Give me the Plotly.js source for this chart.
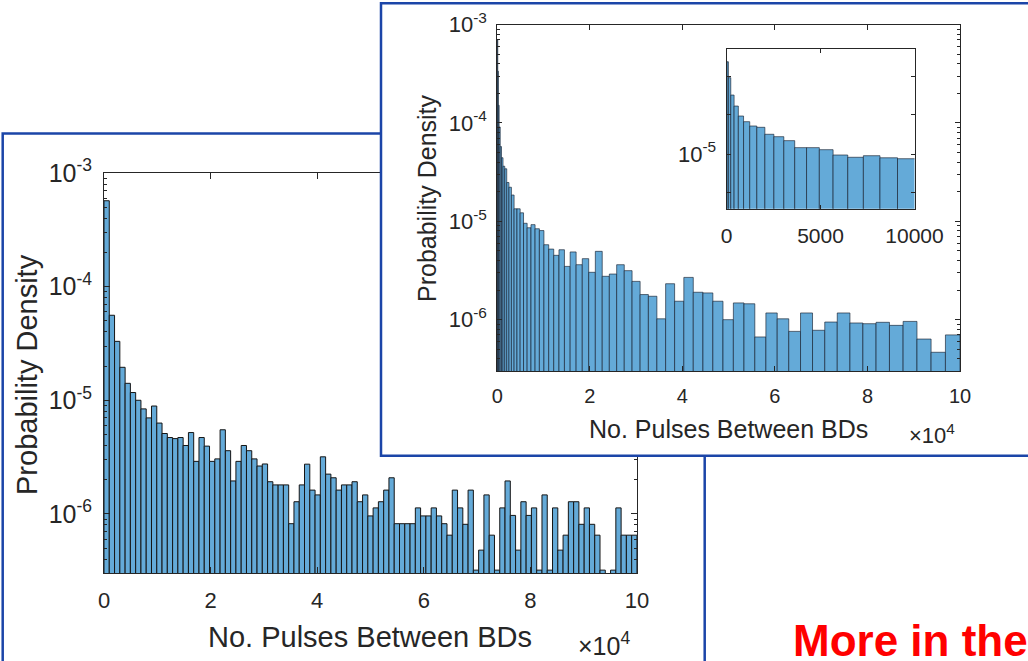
<!DOCTYPE html>
<html>
<head>
<meta charset="utf-8">
<script src="https://cdn.plot.ly/plotly-3.0.1.min.js"></script>
<style>
html,body{margin:0;padding:0;overflow:hidden;background:#ffffff;width:1028px;height:661px}
#leftPanel,#rightPanel{position:absolute;left:0;top:0;width:1028px;height:661px}
#rightPanel{z-index:2}
</style>
</head>
<body>
<div id="leftPanel"></div>
<div id="rightPanel"></div>
<script>
// ---------------- data ----------------
// Left figure: uniform bins
const leftBinWidth = 990;
const leftDensity = [
  5.7e-4, 5.6e-5, 3.3e-5, 1.95e-5, 1.41e-5, 1.17e-5, 1.0e-5, 8.4e-6, 7.0e-6, 8.9e-6,
  6.3e-6, 5.1e-6, 4.7e-6, 4.6e-6, 4.7e-6, 4.0e-6, 5.2e-6, 2.9e-6, 4.7e-6, 3.95e-6,
  2.9e-6, 3.05e-6, 5.5e-6, 3.6e-6, 1.95e-6, 2.9e-6, 4.0e-6, 3.6e-6, 3.05e-6, 2.64e-6,
  2.75e-6, 1.92e-6, 1.8e-6, 1.8e-6, 1.8e-6, 8.2e-7, 1.28e-6, 1.8e-6, 2.74e-6, 1.62e-6,
  1.47e-6, 3.18e-6, 2.24e-6, 2.08e-6, 1.62e-6, 1.8e-6, 1.8e-6, 1.92e-6, 1.28e-6, 1.47e-6,
  9.6e-7, 1.13e-6, 1.28e-6, 1.62e-6, 2.08e-6, 8.2e-7, 8.2e-7, 8.2e-7, 8.2e-7, 1.13e-6,
  9.6e-7, 9.6e-7, 1.13e-6, 9.6e-7, 8.2e-7, 6.5e-7, 1.62e-6, 1.13e-6, 8.1e-7, 1.62e-6,
  3.2e-7, 4.8e-7, 1.47e-6, 6.5e-7, 3.2e-7, 1.13e-6, 1.95e-6, 9.7e-7, 4.8e-7, 1.28e-6,
  9.7e-7, 1.13e-6, 3.2e-7, 1.47e-6, 3.2e-7, 1.13e-6, 4.8e-7, 6.5e-7, 1.28e-6, 1.28e-6,
  8.1e-7, 1.13e-6, 8.1e-7, 6.5e-7, 3.2e-7, 0, 3.2e-7, 1.13e-6, 6.5e-7, 6.5e-7,
  6.5e-7
];

// Right figure (and its inset): widening bins
const rightBinEdges = [
  0, 25, 101, 227, 403, 630, 907, 1235, 1613, 2041,
  2520, 3049, 3628, 4258, 4938, 5669, 6450, 7281, 8163, 9096,
  10078, 11111, 12195, 13328, 14513, 15747, 17032, 18367, 19753, 21189,
  22676, 24213, 25800, 27438, 29126, 30864, 32653, 34492, 36382, 38322,
  40313, 42353, 44445, 46586, 48778, 51021, 53313, 55656, 58050, 60494,
  62988, 65533, 68128, 70774, 73470, 76216, 79013, 81860, 84757, 87705,
  90703, 93752, 96851, 100000
];
const rightDensity = [
  7.0e-4, 7.0e-4, 3.36e-4, 1.51e-4, 9.1e-5, 5.75e-5, 4.43e-5, 3.63e-5, 3.42e-5, 2.48e-5,
  2.22e-5, 1.85e-5, 1.34e-5, 1.34e-5, 1.22e-5, 9.55e-6, 8.6e-6, 9.25e-6, 8.4e-6, 8.05e-6,
  5.78e-6, 5.22e-6, 4.51e-6, 5.14e-6, 3.48e-6, 4.88e-6, 3.62e-6, 4.17e-6, 3.03e-6, 4.95e-6,
  2.76e-6, 2.91e-6, 3.62e-6, 3.15e-6, 2.45e-6, 1.80e-6, 1.73e-6, 1.02e-6, 2.32e-6, 1.54e-6,
  2.69e-6, 1.90e-6, 1.87e-6, 1.54e-6, 1.0e-6, 1.48e-6, 1.45e-6, 6.67e-7, 1.17e-6, 1.02e-6,
  7.6e-7, 1.17e-6, 7.8e-7, 9.46e-7, 1.17e-6, 9.25e-7, 9.1e-7, 9.4e-7, 8.75e-7, 9.6e-7,
  6.35e-7, 4.66e-7, 7.0e-7
];

// tick labels
const mainXTickVals = [0, 20000, 40000, 60000, 80000, 100000];
const mainXTickText = ['0', '2', '4', '6', '8', '10'];
const mainYTickVals = [1e-6, 1e-5, 1e-4, 1e-3];
const mainYTickText = ['10<sup>-6</sup>', '10<sup>-5</sup>', '10<sup>-4</sup>', '10<sup>-3</sup>'];
const insetXTickVals = [0, 5000, 10000];
const insetXTickText = ['0', '5000', '10000'];
const insetYTickVals = [1e-5];
const insetYTickText = ['10<sup>-5</sup>'];
const insetYUnlabeledTicks = [3.52e-4, 6.03e-5, 1.66e-6];

const xLabel = 'No. Pulses Between BDs';
const yLabel = 'Probability Density';
const xExponent = '×10<sup>4</sup>';
const calloutText = '<b>More in the</b>';

// ---------------- styling / helpers ----------------
const W = 1028, H = 661;
const px = x => x / W;
const py = y => 1 - y / H;
const FONT = 'Liberation Sans, Arial, Helvetica, sans-serif';
const INK = '#262626';
const BAR_FILL = 'rgb(100,170,216)';
const PANEL_BLUE = '#1b45a8';

function logMinor(lo, hi) {
  const v = [];
  for (let e = lo; e <= hi; e++) for (let m = 2; m <= 9; m++) v.push(m * Math.pow(10, e));
  return v;
}
function axisBase(extra) {
  return Object.assign({
    showline: true, linecolor: INK, linewidth: 1, mirror: 'allticks',
    ticks: 'inside', tickcolor: INK, tickwidth: 1,
    showgrid: false, zeroline: false, fixedrange: true
  }, extra);
}
function ann(text, x, y, size, extra) {
  return Object.assign({
    text: text, xref: 'paper', yref: 'paper', x: px(x), y: py(y),
    xanchor: 'center', yanchor: 'middle', showarrow: false,
    font: {family: FONT, size: size, color: INK}
  }, extra || {});
}

// ---------------- left panel ----------------
const leftX = leftDensity.map((_, i) => (i + 0.5) * leftBinWidth);
const leftTrace = {
  type: 'bar', x: leftX, y: leftDensity, width: leftBinWidth,
  marker: {color: BAR_FILL, line: {color: '#151515', width: 1}},
  xaxis: 'x', yaxis: 'y', hoverinfo: 'skip'
};
const leftLayout = {
  width: W, height: H, margin: {l: 0, r: 0, t: 0, b: 0},
  paper_bgcolor: '#ffffff', plot_bgcolor: '#ffffff',
  showlegend: false, bargap: 0, font: {family: FONT, color: INK},
  xaxis: axisBase({
    domain: [px(104), px(637)], range: [0, 100000],
    tickmode: 'array', tickvals: mainXTickVals, ticktext: mainXTickText,
    ticklen: 6, tickfont: {family: FONT, size: 22, color: INK}, ticklabelstandoff: 8
  }),
  yaxis: axisBase({
    domain: [py(573), py(173)], type: 'log', range: [-6.52, -3],
    tickmode: 'array', tickvals: mainYTickVals, ticktext: mainYTickText,
    ticklen: 6, tickfont: {family: FONT, size: 25, color: INK}, ticklabelstandoff: 6,
    minor: {tickmode: 'array', tickvals: logMinor(-7, -4), ticks: 'inside', ticklen: 3, tickcolor: INK, tickwidth: 1}
  }),
  shapes: [{
    type: 'rect', xref: 'paper', yref: 'paper',
    x0: px(2.7), x1: px(704.7), y0: py(720), y1: py(133.5),
    line: {color: PANEL_BLUE, width: 2.5}, fillcolor: 'rgba(0,0,0,0)', layer: 'below'
  }],
  annotations: [
    ann(yLabel, 27, 375, 29, {textangle: -90}),
    ann(xLabel, 370, 637, 29),
    ann(xExponent, 604, 644, 25),
    ann(calloutText, 791, 640, 44, {xanchor: 'left', font: {family: FONT, size: 44, color: '#ff0000'}})
  ]
};

// ---------------- right panel + inset ----------------
const rightX = rightDensity.map((_, i) => (rightBinEdges[i] + rightBinEdges[i + 1]) / 2);
const rightW = rightDensity.map((_, i) => rightBinEdges[i + 1] - rightBinEdges[i]);
const rightBarStyle = {color: BAR_FILL, line: {color: 'rgba(20,30,45,0.8)', width: 0.8}};
const rightTrace = {
  type: 'bar', x: rightX, y: rightDensity, width: rightW,
  marker: rightBarStyle, xaxis: 'x2', yaxis: 'y2', hoverinfo: 'skip'
};
const insetTrace = {
  type: 'bar', x: rightX, y: rightDensity, width: rightW,
  marker: rightBarStyle, xaxis: 'x3', yaxis: 'y3', hoverinfo: 'skip'
};
const rightLayout = {
  width: W, height: H, margin: {l: 0, r: 0, t: 0, b: 0},
  paper_bgcolor: 'rgba(0,0,0,0)', plot_bgcolor: 'rgba(0,0,0,0)',
  showlegend: false, bargap: 0, font: {family: FONT, color: INK},
  xaxis2: axisBase({
    domain: [px(497.3), px(960)], range: [0, 100000], anchor: 'y2',
    tickmode: 'array', tickvals: mainXTickVals, ticktext: mainXTickText,
    ticklen: 5, tickfont: {family: FONT, size: 20, color: INK}, ticklabelstandoff: 7
  }),
  yaxis2: axisBase({
    domain: [py(371.3), py(24.6)], type: 'log', range: [-6.525, -3], anchor: 'x2',
    tickmode: 'array', tickvals: mainYTickVals, ticktext: mainYTickText,
    ticklen: 5, tickfont: {family: FONT, size: 22, color: INK}, ticklabelstandoff: 5,
    minor: {tickmode: 'array', tickvals: logMinor(-7, -4), ticks: 'inside', ticklen: 3, tickcolor: INK, tickwidth: 1}
  }),
  xaxis3: axisBase({
    domain: [px(726.5), px(914.5)], range: [0, 10000], anchor: 'y3',
    tickmode: 'array', tickvals: insetXTickVals, ticktext: insetXTickText,
    ticklen: 4, tickfont: {family: FONT, size: 21, color: INK}, ticklabelstandoff: 8
  }),
  yaxis3: axisBase({
    domain: [py(208.7), py(48.7)], type: 'log', range: [-6.094, -2.894], anchor: 'x3',
    tickmode: 'array', tickvals: insetYTickVals, ticktext: insetYTickText,
    ticklen: 4, tickfont: {family: FONT, size: 22, color: INK}, ticklabelstandoff: 5,
    minor: {tickmode: 'array', tickvals: insetYUnlabeledTicks, ticks: 'inside', ticklen: 4, tickcolor: INK, tickwidth: 1}
  }),
  shapes: [{
    type: 'rect', xref: 'paper', yref: 'paper',
    x0: px(381), x1: px(1045), y0: py(455.7), y1: py(3.3),
    line: {color: PANEL_BLUE, width: 2.5}, fillcolor: '#ffffff', layer: 'below'
  }],
  annotations: [
    ann(yLabel, 427, 198, 25, {textangle: -90}),
    ann(xLabel, 728.5, 429, 25),
    ann(xExponent, 932, 434, 22)
  ]
};

const cfg = {staticPlot: true, displayModeBar: false, responsive: false};
Plotly.newPlot('leftPanel', [leftTrace], leftLayout, cfg);
Plotly.newPlot('rightPanel', [rightTrace, insetTrace], rightLayout, cfg);
</script>
</body>
</html>
